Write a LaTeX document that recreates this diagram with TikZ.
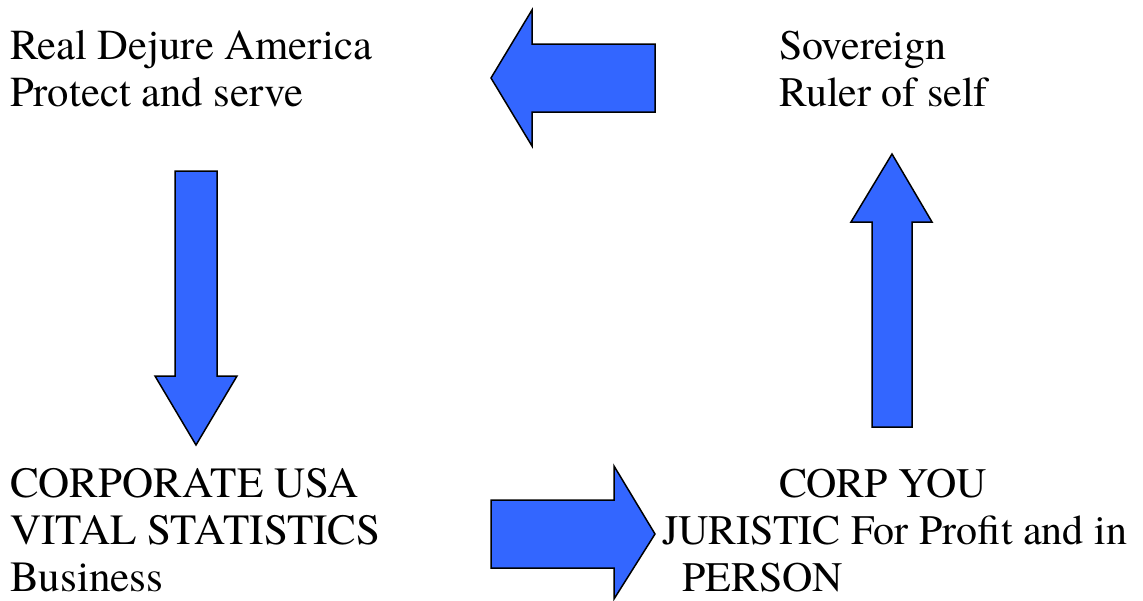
\documentclass[tikz,border=0pt]{standalone}
\usepackage{fontspec}
\setmainfont{TeX Gyre Termes}
\definecolor{arrowblue}{HTML}{3366FF}
\begin{document}
\begin{tikzpicture}[x=1pt,y=-1pt,
  lbl/.style={inner sep=0pt,outer sep=0pt,anchor=base west,font=\fontsize{42}{48}\selectfont},
  lblbig/.style={lbl,font=\fontsize{43.1}{48}\selectfont},
  lblmid/.style={lbl,font=\fontsize{42.7}{48}\selectfont},
  blockarrow/.style={draw=black,line width=1.5pt,fill=arrowblue,line join=miter}]
\useasboundingbox (0,0) rectangle (1143,600);
% texts
\node[lblmid] (t1a) at (10,59) {Real Dejure America};
\node[lblmid] (t1b) at (10,106) {Protect and serve};
\node[lbl] (t2a) at (779,59) {Sovereign};
\node[lbl] (t2b) at (779,106) {Ruler of self};
\node[lblbig] (t3a) at (10,497) {CORPORATE USA};
\node[lblbig] (t3b) at (10,544) {VITAL STATISTICS};
\node[lblbig] (t3c) at (10,591) {Business};
\node[lbl] (t4a) at (779,497) {CORP YOU};
\node[lbl] (t4b) at (662,544) {JURISTIC For Profit and in};
\node[lbl] (t4c) at (682,591) {PERSON};
% left arrow (top)
\draw[blockarrow] (491,78) -- (532,10) -- (532,44) -- (655,44) -- (655,112) -- (532,112) -- (532,146) -- cycle;
% down arrow (left)
\draw[blockarrow] (196,445) -- (155,376) -- (175,376) -- (175,171) -- (217,171) -- (217,376) -- (237,376) -- cycle;
% right arrow (bottom)
\draw[blockarrow] (655,534) -- (614,466) -- (614,500) -- (491,500) -- (491,568) -- (614,568) -- (614,599) -- cycle;
% up arrow (right)
\draw[blockarrow] (892,154) -- (851,222) -- (872,222) -- (872,427) -- (912,427) -- (912,222) -- (932,222) -- cycle;
\end{tikzpicture}
\end{document}
